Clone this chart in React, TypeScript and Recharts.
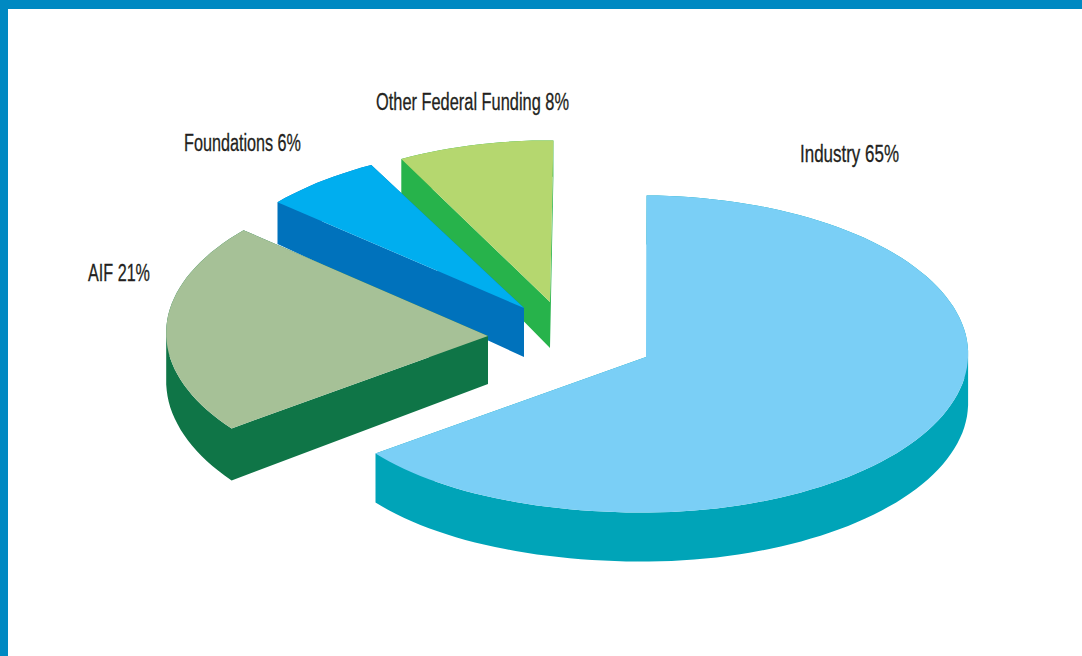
import React from 'react';
import { PieChart, Pie } from 'recharts';

const sources = ['Other Federal Funding', 'Foundations', 'AIF', 'Industry'];
const shares = [8, 6, 21, 65];

const topColors = ['#b5d76f', '#00aeef', '#a6c197', '#7acff6'];
const sideColors = ['#27b34b', '#0072bc', '#0f7547', '#00a4b8'];

// how far each slice is pulled out of the pie
const offsetX = [-96, -122, -158, 0];
const offsetY = [-55, -49, -21, 0];
// rim ellipse tweaks: sideways shift from the apex, width scale, front-left sag, end overshoot in degrees
const rimShift = [-1, -2, 3, -4];
const rimScale = [0.98, 1, 1.012, 1.016];
const rimSag = [0, 0, 0, 0.000114];
const rimOvershoot = [0, 0, 1.8, 0];
// wall height at the apex, and how much it grows per px further down the page
const wallHeight = [46, 49, 48, 49];
const wallTilt = [0.06, 0.067, 0.043, 0];

const labelX = [376, 184, 88, 800];
const labelY = [110, 151, 281, 162];
const labelWidth = [193, 117, 62, 99];

const WIDTH = 1082;
const HEIGHT = 656;
const CX = 646;
const CY = 354;
const RADIUS = 321;
const SQUASH = 0.494;
const APEX_DROP = 3;
const RAD = Math.PI / 180;

type Pt = [number, number];

// signed area decides the winding, so every quad fills the same way in one path
const toQuad = (pts: Pt[]) => {
  let area = 0;
  pts.forEach((p, k) => {
    const q = pts[(k + 1) % pts.length];
    area += p[0] * q[1] - q[0] * p[1];
  });
  return toPath(area < 0 ? [...pts].reverse() : pts);
};

const toPath = (pts: Pt[]) =>
  'M' + pts.map(p => `${p[0].toFixed(1)},${p[1].toFixed(1)}`).join('L') + 'Z';

// Draws one pie sector as a flattened wedge with an extruded wall
const WedgeShape = (props: any) => {
  const { cx, cy, outerRadius, startAngle, name } = props;
  const i = sources.indexOf(name);
  const endAngle = props.endAngle + rimOvershoot[i];
  const ox = cx + offsetX[i];
  const oy = cy + offsetY[i];
  const apex: Pt = [ox, oy + APEX_DROP];

  const rim: Pt[] = [];
  const steps = Math.ceil(Math.abs(endAngle - startAngle) / 2);
  for (let s = 0; s <= steps; s++) {
    const a = (startAngle + ((endAngle - startAngle) * s) / steps) * RAD;
    const dx = outerRadius * rimScale[i] * Math.cos(a);
    const dy = -outerRadius * SQUASH * Math.sin(a);
    const sag = dx < 0 && dy > 0 ? rimSag[i] * dx * dx : 0;
    rim.push([ox + rimShift[i] + dx, oy + dy + sag]);
  }

  const top = [apex, ...rim];
  const drop = (p: Pt): Pt => [p[0], p[1] + wallHeight[i] + (p[1] - apex[1]) * wallTilt[i]];

  const walls = top.map((p, k) => {
    const q = top[(k + 1) % top.length];
    return toQuad([p, q, drop(q), drop(p)]);
  });

  return (
    <g stroke="none">
      <path d={walls.join('')} fill={sideColors[i]} stroke="none" />
      <path d={toPath(top)} fill={topColors[i]} stroke="none" />
    </g>
  );
};

const SliceLabel = (props: any) => {
  const i = sources.indexOf(props.name);
  return (
    <text
      x={labelX[i]}
      y={labelY[i]}
      fill="#231f20"
      stroke="#231f20"
      strokeWidth={0.3}
      fontSize={23}
      fontFamily="'Liberation Sans Narrow', 'Liberation Sans', sans-serif"
      textLength={labelWidth[i]}
      lengthAdjust="spacingAndGlyphs"
    >
      {`${sources[i]} ${shares[i]}%`}
    </text>
  );
};

const data = sources.map((name, i) => ({ name, value: shares[i] }));

export default function App() {
  return (
    <div style={{ position: 'absolute', left: 0, top: 0, width: WIDTH, height: HEIGHT, background: '#fff', overflow: 'hidden' }}>
      <div style={{ position: 'absolute', left: 0, top: 0, width: WIDTH, height: 9, background: '#0089c2' }} />
      <div style={{ position: 'absolute', left: 0, top: 0, width: 8, height: HEIGHT, background: '#0089c2' }} />
      <PieChart width={WIDTH} height={HEIGHT} margin={{ top: 0, right: 0, bottom: 0, left: 0 }}>
        <Pie
          data={data}
          dataKey="value"
          nameKey="name"
          cx={CX}
          cy={CY}
          innerRadius={0}
          outerRadius={RADIUS}
          startAngle={89.2}
          endAngle={449.2}
          stroke="none"
          shape={WedgeShape}
          label={SliceLabel}
          labelLine={false}
          isAnimationActive={false}
        />
      </PieChart>
    </div>
  );
}
